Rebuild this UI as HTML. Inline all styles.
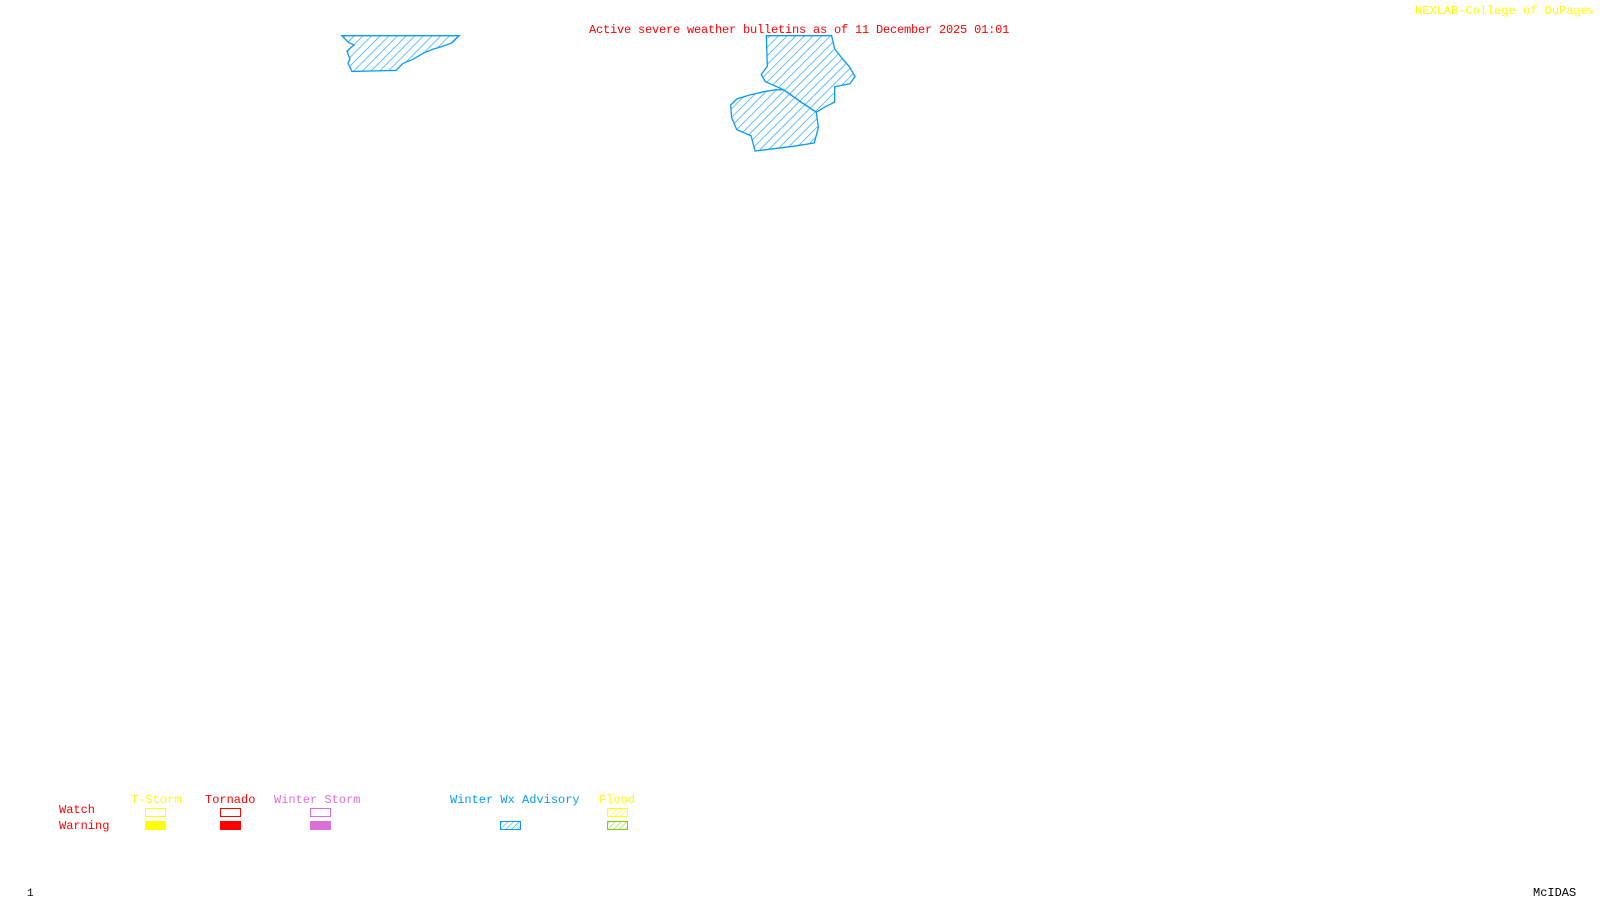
<!DOCTYPE html>
<html><head><meta charset="utf-8"><style>
html,body{margin:0;padding:0;background:#fff;width:1600px;height:900px;overflow:hidden}
.t{position:absolute;font-family:"Liberation Mono",monospace;font-size:12px;line-height:12px;white-space:pre}
.b{position:absolute;box-sizing:border-box;width:21px;height:9px}
</style></head><body>
<svg width="1600" height="900" style="position:absolute;left:0;top:0">
<defs>
<pattern id="h" width="6" height="6" patternUnits="userSpaceOnUse" patternTransform="rotate(45)">
<line x1="0" y1="0" x2="0" y2="6" stroke="#0a9bf5" stroke-width="1.2"/></pattern>
<pattern id="hy" width="4" height="4" patternUnits="userSpaceOnUse" patternTransform="rotate(45)">
<line x1="0" y1="0" x2="0" y2="4" stroke="#ffff00" stroke-width="1"/></pattern>
<pattern id="hg" width="4" height="4" patternUnits="userSpaceOnUse" patternTransform="rotate(45)">
<line x1="0" y1="0" x2="0" y2="4" stroke="#7fd000" stroke-width="1"/></pattern>
<pattern id="hb" width="4" height="4" patternUnits="userSpaceOnUse" patternTransform="rotate(45)">
<line x1="0" y1="0" x2="0" y2="4" stroke="#0a9bf5" stroke-width="1"/></pattern>
</defs>
<g transform="scale(1.0204)" stroke="#0a9bf5" stroke-width="1.3" fill="url(#h)">
<polygon points="335,35 342,42 347,44 340,50 343,58 341,62 345,70 388,69 395,62 405,58 415,52 425,48 435,45 443,42 450,35"/>
<polygon points="751,35 815,35 818,48 826,58 832,65 838,75 833,82 818,85 818,100 808,105 800,110 785,100 768,88 750,80 746,73 752,65"/>
<polygon points="768,88 785,100 800,110 802,125 798,140 780,143 740,148 736,133 722,127 717,115 716,103 722,97 735,93 748,90 760,88"/>
</g>
<rect x="500.5" y="821.5" width="20" height="8" fill="url(#hb)" stroke="#0a9bf5"/>
<rect x="607.5" y="808.5" width="20" height="8" fill="url(#hy)" stroke="#ffff00"/>
<rect x="607.5" y="821.5" width="20" height="8" fill="url(#hg)" stroke="#7fd000"/>
</svg>
<div class="t" style="left:589px;top:24px;color:#ff0000;letter-spacing:-0.2px">Active severe weather bulletins as of 11 December 2025 01:01</div>
<div class="t" style="left:1415px;top:5px;color:#ffff00">NEXLAB-College of DuPage</div>
<div class="t" style="left:1587px;top:5px;color:#ffff00">&#8690;</div>
<div class="t" style="left:131px;top:794px;color:#ffff00">T-Storm</div>
<div class="t" style="left:205px;top:794px;color:#ff0000">Tornado</div>
<div class="t" style="left:274px;top:794px;color:#da70d6">Winter Storm</div>
<div class="t" style="left:450px;top:794px;color:#0a9bf5">Winter Wx Advisory</div>
<div class="t" style="left:599px;top:794px;color:#ffff00">Flood</div>
<div class="t" style="left:59px;top:804px;color:#ff0000">Watch</div>
<div class="t" style="left:59px;top:820px;color:#ff0000">Warning</div>
<div class="b" style="left:145px;top:808px;border:1px solid #ffff00"></div>
<div class="b" style="left:145px;top:821px;background:#ffff00"></div>
<div class="b" style="left:220px;top:808px;border:1px solid #ff0000"></div>
<div class="b" style="left:220px;top:821px;background:#ff0000"></div>
<div class="b" style="left:310px;top:808px;border:1px solid #da70d6"></div>
<div class="b" style="left:310px;top:821px;background:#da70d6"></div>
<div class="t" style="left:27px;top:888px;color:#000;font-size:11px">1</div>
<div class="t" style="left:1533px;top:887px;color:#000">McIDAS</div>
</body></html>
